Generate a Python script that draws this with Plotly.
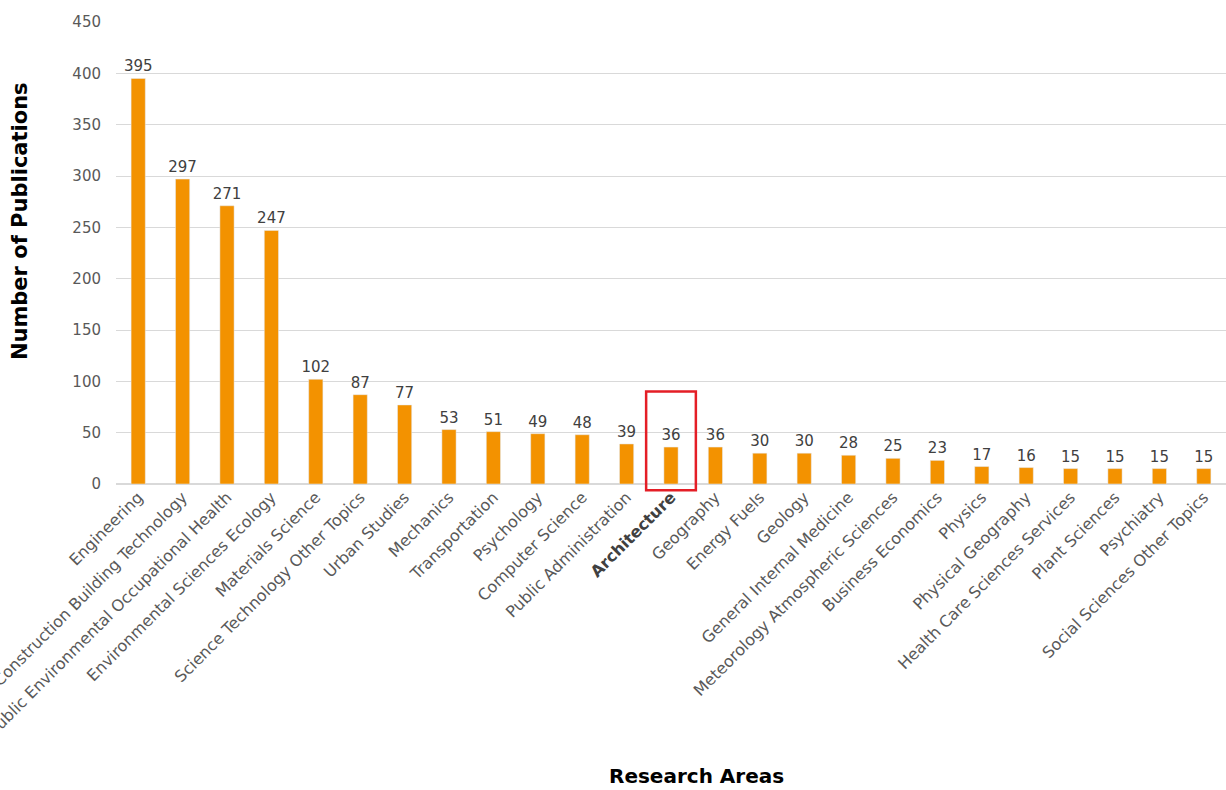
import plotly.graph_objects as go

areas = [
    "Engineering", "Construction Building Technology", "Public Environmental Occupational Health",
    "Environmental Sciences Ecology", "Materials Science", "Science Technology Other Topics",
    "Urban Studies", "Mechanics", "Transportation", "Psychology", "Computer Science",
    "Public Administration", "Architecture", "Geography", "Energy Fuels", "Geology",
    "General Internal Medicine", "Meteorology Atmospheric Sciences", "Business Economics",
    "Physics", "Physical Geography", "Health Care Sciences Services", "Plant Sciences",
    "Psychiatry", "Social Sciences Other Topics",
]
publications = [395, 297, 271, 247, 102, 87, 77, 53, 51, 49, 48, 39, 36, 36, 30, 30,
                28, 25, 23, 17, 16, 15, 15, 15, 15]
highlight = "Architecture"
y_ticks = [0, 50, 100, 150, 200, 250, 300, 350, 400, 450]
Y_MAX = 450

FONT = "DejaVu Sans"
TITLE_FONT = "DejaVu Sans"
GREY = "#595959"

tick_text = [
    f"<b><span style='color:#404040'>{a}</span></b>" if a == highlight else a
    for a in areas
]

fig = go.Figure(
    go.Bar(
        x=areas,
        y=publications,
        marker=dict(color="#f39200"),
        text=[str(v) for v in publications],
        textposition="outside",
        textfont=dict(family=FONT, size=15, color="#404040"),
        cliponaxis=False,
        constraintext="none",
    )
)

# frame around the highlighted category (paper coordinates so it may extend below the axis)
hi = areas.index(highlight)
n = len(areas)
fig.add_shape(
    type="rect", xref="paper", yref="paper",
    x0=(hi + 0.5 - 0.56) / n, x1=(hi + 0.5 + 0.56) / n,
    y0=-6 / Y_MAX, y1=90 / Y_MAX,
    line=dict(color="#e41e26", width=2.5),
)

fig.add_annotation(
    text="<b>Research Areas</b>", xref="paper", yref="paper",
    x=0.523, y=-0.633, xanchor="center", yanchor="middle", showarrow=False,
    font=dict(family=TITLE_FONT, size=20, color="#000000"),
)
fig.add_annotation(
    text="<b>Number of Publications</b>", xref="paper", yref="paper",
    x=-0.0865, y=0.569, xanchor="center", yanchor="middle", showarrow=False, textangle=-90,
    font=dict(family=TITLE_FONT, size=21, color="#000000"),
)

fig.update_layout(
    width=1226, height=790,
    margin=dict(l=116, r=0, t=22, b=306),
    plot_bgcolor="white", paper_bgcolor="white",
    bargap=0.68,
    showlegend=False,
    uniformtext=dict(minsize=15, mode="show"),
    font=dict(family=FONT, color=GREY),
)
fig.update_xaxes(
    tickmode="array", tickvals=areas, ticktext=tick_text,
    tickangle=-45, tickfont=dict(family=FONT, size=16, color=GREY),
    showgrid=False, showline=False, automargin=False,
)
fig.update_yaxes(
    range=[0, Y_MAX], tickvals=y_ticks,
    tickfont=dict(family=FONT, size=15, color=GREY),
    gridcolor="#d9d9d9", gridwidth=1, zeroline=True, zerolinecolor="#d9d9d9", zerolinewidth=1.5,
    ticks="", ticklabelstandoff=14, automargin=False,
)

fig.write_html("out.html")
